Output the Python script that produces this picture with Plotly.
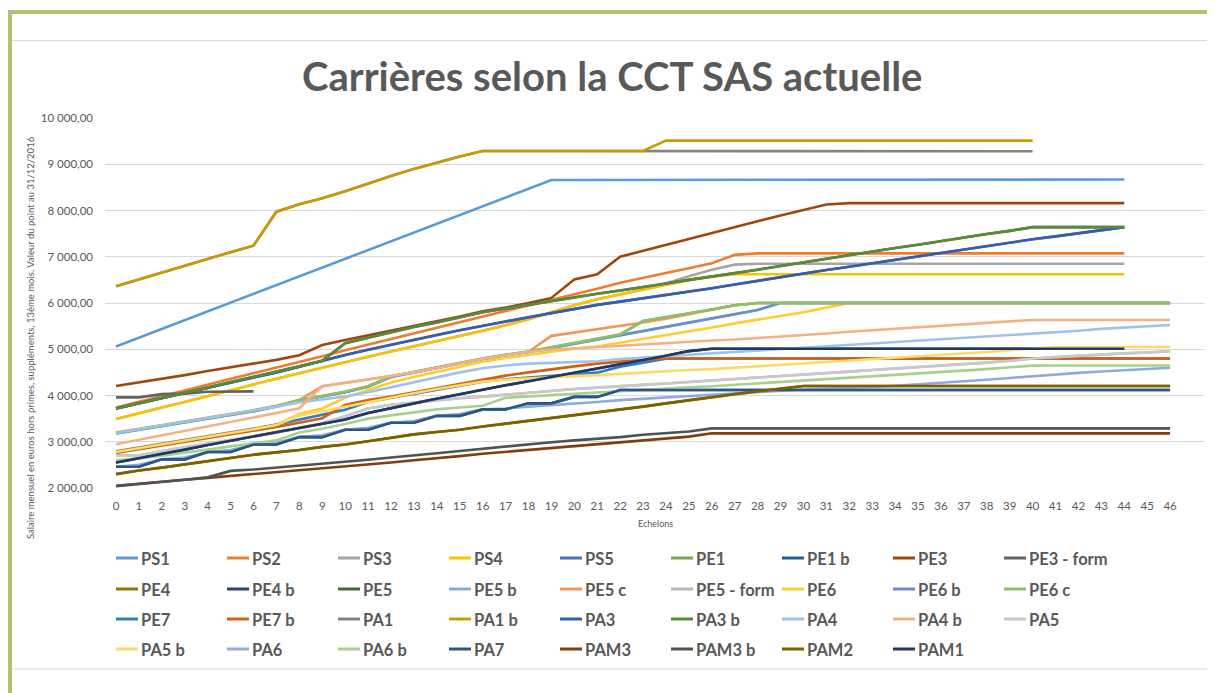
import plotly.graph_objects as go

# ---------------- data ----------------
ECHELONS = [0, 1, 2, 3, 4, 5, 6, 7, 8, 9, 10, 11, 12, 13, 14, 15, 16, 17, 18, 19, 20, 21, 22, 23,
            24, 25, 26, 27, 28, 29, 30, 31, 32, 33, 34, 35, 36, 37, 38, 39, 40, 41, 42, 43, 44, 45, 46]
Y_TICKS = [2000, 3000, 4000, 5000, 6000, 7000, 8000, 9000, 10000]
Y_TICK_LABELS = ["2 000,00", "3 000,00", "4 000,00", "5 000,00", "6 000,00",
                 "7 000,00", "8 000,00", "9 000,00", "10 000,00"]

PS1 = [5060, 5250, 5440, 5630, 5820, 6010, 6200, 6390, 6580, 6770, 6960, 7150, 7340, 7530, 7720,
       7910, 8100, 8290, 8480, 8660, 8660, 8660, 8660, 8660, 8660, 8660, 8670, 8670, 8670, 8670,
       8670, 8670, 8670, 8670, 8670, 8670, 8670, 8670, 8670, 8670, 8670, 8670, 8670, 8670, 8670]
PS2 = [3740, 3870, 3990, 4110, 4240, 4360, 4480, 4600, 4720, 4850, 4980, 5100, 5220, 5340, 5460,
       5580, 5700, 5820, 5940, 6060, 6180, 6310, 6440, 6550, 6650, 6750, 6860, 7040, 7074, 7074,
       7074, 7074, 7074, 7074, 7074, 7074, 7074, 7074, 7074, 7074, 7074, 7074, 7074, 7074, 7074]
PS3 = [3490, 3620, 3740, 3860, 3990, 4110, 4240, 4360, 4480, 4600, 4730, 4840, 4950, 5060, 5170,
       5280, 5400, 5520, 5650, 5800, 5950, 6080, 6180, 6290, 6420, 6580, 6720, 6830, 6850, 6850,
       6850, 6850, 6850, 6850, 6850, 6850, 6850, 6850, 6850, 6850, 6850, 6850, 6850, 6850, 6850]
PS4 = [3490, 3620, 3740, 3860, 3990, 4110, 4240, 4360, 4480, 4600, 4730, 4840, 4950, 5060, 5170,
       5280, 5400, 5520, 5650, 5800, 5950, 6080, 6180, 6290, 6390, 6490, 6570, 6620, 6620, 6620,
       6620, 6620, 6620, 6620, 6620, 6620, 6620, 6620, 6620, 6620, 6620, 6620, 6620, 6620, 6620]
PS5 = [3720, 3830, 3940, 4050, 4160, 4270, 4380, 4500, 4620, 4750, 4876, 4990, 5100, 5210, 5310,
       5410, 5510, 5600, 5690, 5780, 5870, 5960, 6030, 6100, 6170, 6245, 6318, 6400, 6480, 6560,
       6642, 6715, 6785, 6860, 6940, 7010, 7088, 7160, 7230, 7300, 7377, 7440, 7510, 7575, 7640]
PE1 = [3190, 3270, 3350, 3430, 3510, 3590, 3670, 3770, 3900, 3990, 4080, 4200, 4410, 4510, 4610,
       4710, 4800, 4880, 4950, 5040, 5130, 5230, 5320, 5610, 5690, 5770, 5860, 5950, 6000, 6000,
       6000, 6000, 6000, 6000, 6000, 6000, 6000, 6000, 6000, 6000, 6000, 6000, 6000, 6000, 6000,
       6000, 6000]
PE1_B = [2460, 2460, 2620, 2620, 2780, 2780, 2940, 2940, 3100, 3100, 3260, 3260, 3410, 3410, 3560,
         3560, 3700, 3700, 3830, 3830, 3970, 3970, 4120, 4120, 4120, 4120, 4120, 4120, 4120, 4120,
         4120, 4120, 4120, 4120, 4120, 4120, 4120, 4120, 4120, 4120, 4120, 4120, 4120, 4120, 4120,
         4120, 4120]
PE3 = [4205, 4280, 4360, 4440, 4530, 4610, 4700, 4770, 4870, 5090, 5200, 5300, 5400, 5500, 5600,
       5710, 5820, 5900, 6000, 6110, 6510, 6620, 7000, 7130, 7250, 7380, 7510, 7640, 7770, 7890,
       8010, 8130, 8160, 8160, 8160, 8160, 8160, 8160, 8160, 8160, 8160, 8160, 8160, 8160, 8160]
PE3_FORM = [3960, 3960, 4030, 4040, 4080, 4090, 4090]
PE4 = [2300, 2380, 2440, 2510, 2580, 2650, 2720, 2770, 2820, 2890, 2940, 3010, 3090, 3160, 3210,
       3260, 3330, 3390, 3450, 3510, 3580, 3640, 3700, 3760, 3830, 3900, 3960, 4030, 4090, 4140,
       4205, 4205, 4205, 4205, 4205, 4205, 4205, 4205, 4205, 4205, 4205, 4205, 4205, 4205, 4205,
       4205, 4205]
PE4_B = [2550, 2640, 2735, 2830, 2930, 3020, 3110, 3200, 3290, 3380, 3480, 3620, 3730, 3830, 3930,
         4030, 4130, 4220, 4310, 4400, 4490, 4580, 4680, 4770, 4860, 4960, 5010, 5010, 5010, 5010,
         5010, 5010, 5010, 5010, 5010, 5010, 5010, 5010, 5010, 5010, 5010, 5010, 5010, 5010, 5010]
PE5 = [3720, 3830, 3950, 4060, 4170, 4290, 4400, 4520, 4630, 4750, 5130, 5250, 5370, 5480, 5580,
       5690, 5800, 5880, 5960, 6050, 6130, 6200, 6270, 6340, 6420, 6500, 6570, 6640, 6720, 6800,
       6880, 6960, 7040, 7110, 7190, 7260, 7340, 7410, 7490, 7560, 7640, 7640, 7640, 7640, 7640]
PE5_B = [3180, 3260, 3340, 3420, 3500, 3580, 3660, 3760, 3890, 3980, 4070, 4190, 4400, 4500, 4600,
         4700, 4790, 4870, 4940, 5030, 5120, 5210, 5300, 5390, 5475, 5570, 5670, 5760, 5849, 6000,
         6000, 6000, 6000, 6000, 6000, 6000, 6000, 6000, 6000, 6000, 6000, 6000, 6000, 6000, 6000,
         6000, 6000]
PE5_C = [3200, 3280, 3360, 3440, 3520, 3600, 3680, 3780, 3900, 4200, 4270, 4340, 4420, 4500, 4600,
         4690, 4790, 4870, 4946, 5290, 5360, 5440, 5500, 5580, 5660, 5760, 5850, 5950, 6000, 6000,
         6000, 6000, 6000, 6000, 6000, 6000, 6000, 6000, 6000, 6000, 6000, 6000, 6000, 6000, 6000,
         6000, 6000]
PE5_FORM = [2700, 2700, 2800, 2880, 2960, 3040, 3120, 3200, 3300, 3400, 3550, 3720, 3800, 3850, 3900,
            3940, 3975, 4020, 4060, 4100, 4140, 4170, 4206, 4230, 4260, 4290, 4320, 4350, 4380, 4420,
            4450, 4480, 4516, 4550, 4580, 4610, 4650, 4680, 4710, 4750, 4800, 4830, 4860, 4880, 4910,
            4930, 4956]
PE6 = [2800, 2880, 2960, 3040, 3120, 3200, 3280, 3370, 3600, 3720, 3950, 4120, 4280, 4400, 4510,
       4620, 4730, 4810, 4880, 4950, 5010, 5060, 5140, 5220, 5300, 5390, 5470, 5560, 5640, 5720,
       5800, 5900, 6000, 6000, 6000, 6000, 6000, 6000, 6000, 6000, 6000, 6000, 6000, 6000, 6000,
       6000, 6000]
PE6_B = [3180, 3260, 3340, 3420, 3500, 3580, 3660, 3760, 3890, 3980, 4070, 4190, 4400, 4500, 4600,
         4700, 4790, 4870, 4940, 5030, 5120, 5210, 5300, 5390, 5475, 5570, 5670, 5760, 5849, 6000,
         6000, 6000, 6000, 6000, 6000, 6000, 6000, 6000, 6000, 6000, 6000, 6000, 6000, 6000, 6000,
         6000, 6000]
PE6_C = [3190, 3270, 3350, 3430, 3510, 3590, 3670, 3770, 3900, 3990, 4080, 4200, 4410, 4510, 4610,
         4710, 4800, 4880, 4950, 5040, 5130, 5230, 5320, 5610, 5690, 5770, 5860, 5950, 6000, 6000,
         6000, 6000, 6000, 6000, 6000, 6000, 6000, 6000, 6000, 6000, 6000, 6000, 6000, 6000, 6000,
         6000, 6000]
PE7 = [2790, 2870, 2950, 3030, 3110, 3190, 3280, 3370, 3480, 3590, 3690, 3860, 3950, 4040, 4130,
       4220, 4300, 4350, 4390, 4430, 4460, 4494, 4624, 4710, 4797, 4800, 4800, 4800, 4800, 4800,
       4800, 4800, 4800, 4800, 4800, 4800, 4800, 4800, 4800, 4800, 4800, 4800, 4800, 4800, 4800,
       4800, 4800]
PE7_B = [2760, 2840, 2910, 2990, 3070, 3150, 3230, 3320, 3410, 3510, 3795, 3900, 3980, 4070, 4160,
         4260, 4350, 4430, 4500, 4570, 4630, 4690, 4735, 4775, 4800, 4800, 4800, 4800, 4800, 4800,
         4800, 4800, 4800, 4800, 4800, 4800, 4800, 4800, 4800, 4800, 4800, 4800, 4800, 4800, 4800,
         4800, 4800]
PA1 = [6360, 6510, 6650, 6800, 6950, 7100, 7240, 7975, 8133, 8263, 8414, 8587, 8746, 8900, 9040,
       9170, 9286, 9286, 9286, 9286, 9286, 9286, 9286, 9286, 9280, 9280, 9280, 9280, 9280, 9280,
       9280, 9280, 9280, 9280, 9280, 9280, 9280, 9280, 9280, 9280, 9280]
PA1_B = [6360, 6510, 6650, 6800, 6950, 7100, 7240, 7975, 8133, 8263, 8414, 8587, 8746, 8900, 9040,
         9170, 9286, 9286, 9286, 9286, 9286, 9286, 9286, 9286, 9510, 9510, 9510, 9510, 9510, 9510,
         9510, 9510, 9510, 9510, 9510, 9510, 9510, 9510, 9510, 9510, 9510]
PA3 = [3720, 3830, 3940, 4050, 4160, 4270, 4380, 4500, 4620, 4750, 4876, 4990, 5100, 5210, 5310,
       5410, 5510, 5600, 5690, 5780, 5870, 5960, 6030, 6100, 6170, 6245, 6318, 6400, 6480, 6560,
       6642, 6715, 6785, 6860, 6940, 7010, 7088, 7160, 7230, 7300, 7377, 7440, 7510, 7575, 7640]
PA3_B = [3720, 3830, 3950, 4060, 4170, 4290, 4400, 4520, 4630, 4750, 5130, 5250, 5370, 5480, 5580,
         5690, 5800, 5880, 5960, 6050, 6130, 6200, 6270, 6340, 6420, 6500, 6570, 6640, 6720, 6800,
         6880, 6960, 7040, 7110, 7190, 7260, 7340, 7410, 7490, 7560, 7640, 7640, 7640, 7640, 7640]
PA4 = [3190, 3270, 3350, 3430, 3510, 3590, 3670, 3760, 3850, 3920, 3980, 4070, 4180, 4290, 4400,
       4500, 4590, 4650, 4690, 4710, 4720, 4740, 4790, 4820, 4850, 4880, 4910, 4940, 4970, 5000,
       5030, 5060, 5090, 5120, 5150, 5180, 5210, 5240, 5270, 5300, 5330, 5370, 5400, 5440, 5470,
       5500, 5525]
PA4_B = [2945, 3040, 3130, 3230, 3330, 3430, 3520, 3620, 3724, 4200, 4270, 4340, 4420, 4500, 4600,
         4690, 4790, 4870, 4946, 4990, 5020, 5050, 5077, 5100, 5130, 5160, 5190, 5210, 5240, 5270,
         5300, 5340, 5380, 5410, 5450, 5480, 5510, 5540, 5570, 5600, 5633, 5633, 5633, 5633, 5633,
         5633, 5633]
PA5 = [2700, 2700, 2800, 2880, 2960, 3040, 3120, 3200, 3300, 3400, 3550, 3720, 3800, 3850, 3900,
       3940, 3975, 4020, 4060, 4100, 4140, 4170, 4206, 4230, 4260, 4290, 4320, 4350, 4380, 4420,
       4450, 4480, 4516, 4550, 4580, 4610, 4650, 4680, 4710, 4750, 4800, 4830, 4860, 4880, 4910,
       4930, 4956]
PA5_B = [2780, 2860, 2940, 3020, 3100, 3180, 3270, 3360, 3560, 3660, 3760, 3860, 3960, 4050, 4140,
         4220, 4300, 4340, 4370, 4400, 4420, 4440, 4470, 4500, 4520, 4550, 4570, 4600, 4630, 4660,
         4690, 4720, 4760, 4790, 4820, 4850, 4880, 4910, 4940, 4980, 5020, 5050, 5050, 5050, 5050,
         5050, 5050]
PA6 = [2460, 2500, 2620, 2660, 2780, 2820, 2940, 2980, 3100, 3140, 3260, 3300, 3410, 3450, 3560,
       3600, 3700, 3720, 3760, 3790, 3820, 3860, 3900, 3930, 3960, 3990, 4020, 4050, 4080, 4110,
       4130, 4150, 4160, 4180, 4210, 4240, 4270, 4300, 4340, 4380, 4420, 4450, 4490, 4520, 4550,
       4580, 4600]
PA6_B = [2600, 2640, 2700, 2760, 2830, 2900, 2960, 3030, 3200, 3280, 3384, 3500, 3570, 3640, 3700,
         3740, 3780, 3950, 3980, 4010, 4040, 4070, 4104, 4130, 4150, 4180, 4200, 4230, 4260, 4300,
         4330, 4360, 4390, 4420, 4450, 4480, 4510, 4540, 4570, 4610, 4645, 4650, 4650, 4650, 4650,
         4650, 4650]
PA7 = [2460, 2460, 2620, 2620, 2780, 2780, 2940, 2940, 3100, 3100, 3260, 3260, 3410, 3410, 3560,
       3560, 3700, 3700, 3830, 3830, 3970, 3970, 4120, 4120, 4120, 4120, 4120, 4120, 4120, 4120,
       4120, 4120, 4120, 4120, 4120, 4120, 4120, 4120, 4120, 4120, 4120, 4120, 4120, 4120, 4120,
       4120, 4120]
PAM3 = [2040, 2090, 2140, 2180, 2220, 2260, 2300, 2340, 2380, 2420, 2460, 2510, 2550, 2600, 2640,
        2690, 2740, 2780, 2830, 2870, 2910, 2950, 2990, 3030, 3070, 3110, 3182, 3182, 3182, 3182,
        3182, 3182, 3182, 3182, 3182, 3182, 3182, 3182, 3182, 3182, 3182, 3182, 3182, 3182, 3182,
        3182, 3182]
PAM3_B = [2050, 2090, 2140, 2180, 2230, 2370, 2400, 2440, 2480, 2520, 2560, 2610, 2660, 2700, 2750,
          2800, 2850, 2890, 2940, 2990, 3030, 3060, 3100, 3150, 3190, 3220, 3290, 3290, 3290, 3290,
          3290, 3290, 3290, 3290, 3290, 3290, 3290, 3290, 3290, 3290, 3290, 3290, 3290, 3290, 3290,
          3290, 3290]
PAM2 = [2300, 2380, 2440, 2510, 2580, 2650, 2720, 2770, 2820, 2890, 2940, 3010, 3090, 3160, 3210,
        3260, 3330, 3390, 3450, 3510, 3580, 3640, 3700, 3760, 3830, 3900, 3960, 4030, 4090, 4140,
        4205, 4205, 4205, 4205, 4205, 4205, 4205, 4205, 4205, 4205, 4205, 4205, 4205, 4205, 4205,
        4205, 4205]
PAM1 = [2550, 2640, 2735, 2830, 2930, 3020, 3110, 3200, 3290, 3380, 3480, 3620, 3730, 3830, 3930,
        4030, 4130, 4220, 4310, 4400, 4490, 4580, 4680, 4770, 4860, 4960, 5010, 5010, 5010, 5010,
        5010, 5010, 5010, 5010, 5010, 5010, 5010, 5010, 5010, 5010, 5010, 5010, 5010, 5010, 5010]

SERIES_NAMES = ["PS1", "PS2", "PS3", "PS4", "PS5", "PE1", "PE1 b", "PE3", "PE3 - form",
                "PE4", "PE4 b", "PE5", "PE5 b", "PE5 c", "PE5 - form", "PE6", "PE6 b", "PE6 c",
                "PE7", "PE7 b", "PA1", "PA1 b", "PA3", "PA3 b", "PA4", "PA4 b", "PA5",
                "PA5 b", "PA6", "PA6 b", "PA7", "PAM3", "PAM3 b", "PAM2", "PAM1"]
SERIES_VALUES = [PS1, PS2, PS3, PS4, PS5, PE1, PE1_B, PE3, PE3_FORM,
                 PE4, PE4_B, PE5, PE5_B, PE5_C, PE5_FORM, PE6, PE6_B, PE6_C,
                 PE7, PE7_B, PA1, PA1_B, PA3, PA3_B, PA4, PA4_B, PA5,
                 PA5_B, PA6, PA6_B, PA7, PAM3, PAM3_B, PAM2, PAM1]
SERIES_COLORS = ["#5B9BD5", "#ED7D31", "#A5A5A5", "#FFC000", "#4472C4", "#70AD47", "#255E91",
                 "#9E480E", "#636363", "#997300", "#264478", "#43682B", "#7CAFDD", "#F1975A",
                 "#B7B7B7", "#FFCD33", "#698ED0", "#8CC168", "#327DC2", "#D26012", "#848484",
                 "#CC9A00", "#3A5DA8", "#5A8A3A", "#9DC3E6", "#F4B183", "#C9C9C9", "#FFD966",
                 "#8FAADC", "#A9D18E", "#2A5783", "#843C0C", "#525252", "#7F6000", "#203864"]

TITLE = "Carrières selon la CCT SAS actuelle"
X_TITLE = "Echelons"
Y_TITLE = "Salaire mensuel en euros hors primes, suppléments, 13ème mois. Valeur du point au 31/12/2016"

# ---------------- layout geometry (page pixels) ----------------
OFF = 8                      # page body margin offset of the figure
W, H = 1215 - OFF, 693 - OFF  # figure size so the page is filled exactly
PL, PR, PT, PB = 105, 1204, 118, 488   # plot-area edges in page pixels
TXT = "#595959"
FONT = "Lato"


def fx(px):
    return (px - PL) / (PR - PL)


def fy(py):
    return (PB - py) / (PB - PT)


fig = go.Figure()
for name, vals, col in zip(SERIES_NAMES, SERIES_VALUES, SERIES_COLORS):
    fig.add_trace(go.Scatter(x=ECHELONS[:len(vals)], y=vals, mode="lines", name=name,
                             line=dict(color=col, width=2.6), showlegend=False))

shapes = []
annotations = []

# frame
GREEN = "#B6C06E"
shapes.append(dict(type="rect", xref="paper", yref="paper", x0=fx(OFF), x1=fx(1215), y0=fy(10), y1=fy(14),
                   fillcolor=GREEN, line=dict(width=0), layer="above"))
shapes.append(dict(type="rect", xref="paper", yref="paper", x0=fx(OFF), x1=fx(12), y0=fy(10), y1=fy(693),
                   fillcolor=GREEN, line=dict(width=0), layer="above"))
shapes.append(dict(type="rect", xref="paper", yref="paper", x0=fx(1210), x1=fx(1213), y0=fy(10), y1=fy(693),
                   fillcolor=GREEN, line=dict(width=0), layer="above"))
for yy in (40.5, 669):
    shapes.append(dict(type="line", xref="paper", yref="paper", x0=fx(12), x1=fx(1210), y0=fy(yy), y1=fy(yy),
                       line=dict(color="#D9D9D9", width=1.2)))

# title & axis titles
annotations.append(dict(text=TITLE, xref="paper", yref="paper", x=fx(612), y=fy(76), showarrow=False,
                        xanchor="center", yanchor="middle",
                        font=dict(family=FONT, size=40, color=TXT, weight="bold")))
annotations.append(dict(text=X_TITLE, xref="paper", yref="paper", x=fx(655), y=fy(523), showarrow=False,
                        xanchor="center", yanchor="middle", font=dict(family=FONT, size=9, color=TXT)))
annotations.append(dict(text=Y_TITLE, xref="paper", yref="paper", x=fx(30), y=fy(338), showarrow=False,
                        textangle=-90, xanchor="center", yanchor="middle",
                        font=dict(family=FONT, size=9.5, color=TXT)))

# manual legend (9 columns)
COL0, COLW = 116, 111
ROWS = [558, 589, 619, 649]
for i, (name, col) in enumerate(zip(SERIES_NAMES, SERIES_COLORS)):
    r, c = divmod(i, 9)
    x0 = COL0 + c * COLW
    y0 = ROWS[r]
    shapes.append(dict(type="line", xref="paper", yref="paper", x0=fx(x0), x1=fx(x0 + 22),
                       y0=fy(y0), y1=fy(y0), line=dict(color=col, width=3)))
    annotations.append(dict(text=name, xref="paper", yref="paper", x=fx(x0 + 23), y=fy(y0 + 0.5),
                            showarrow=False, xanchor="left", yanchor="middle",
                            font=dict(family=FONT, size=16.5, color=TXT, weight="bold")))

fig.update_layout(
    width=W, height=H, autosize=False,
    margin=dict(l=PL - OFF, r=W - (PR - OFF), t=PT - OFF, b=H - (PB - OFF), pad=0),
    paper_bgcolor="white", plot_bgcolor="white",
    showlegend=False,
    shapes=shapes, annotations=annotations,
    font=dict(family=FONT, color=TXT),
)
fig.update_xaxes(range=[-0.48, 47.48], tickmode="array", tickvals=ECHELONS,
                 ticktext=[str(e) for e in ECHELONS], showgrid=False, zeroline=False, showline=False,
                 ticks="", ticklabelstandoff=9, tickfont=dict(family=FONT, size=11.5, color=TXT))
fig.update_yaxes(range=[2000, 10000], tickmode="array", tickvals=Y_TICKS, ticktext=Y_TICK_LABELS,
                 showgrid=True, gridcolor="#D9D9D9", gridwidth=1.2, zeroline=False, showline=False,
                 ticks="", ticklabelstandoff=11, tickfont=dict(family=FONT, size=11.5, color=TXT))

fig.write_html("out.html")
